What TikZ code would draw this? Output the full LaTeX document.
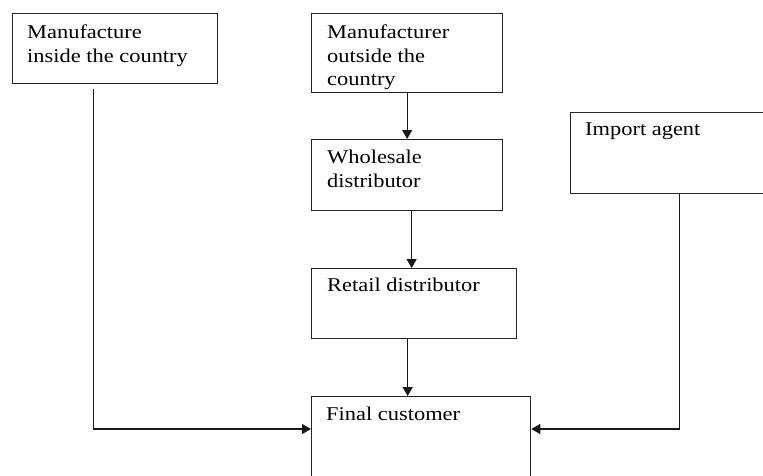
\documentclass[tikz,border=0pt]{standalone}
\usepackage{fontspec}
\setmainfont{Liberation Serif}
\usetikzlibrary{arrows.meta}
\newcommand\sx[1]{\scalebox{1.15}[1]{#1}}
\tikzset{
  box/.style={draw=black!85, line width=1.3pt, rectangle, inner sep=0pt, anchor=north west},
  lbl/.style={anchor=north west, inner sep=0pt, align=left, font=\fontsize{19.5}{23.5}\selectfont},
  arr/.style={draw=black!90, line width=1.2pt, -{Triangle[length=9pt,width=10pt]}},
  ln/.style={draw=black!90, line width=1.2pt}
}
\begin{document}
\begin{tikzpicture}[x=1pt,y=-1pt]
\useasboundingbox (0,0) rectangle (763,475);
\clip (0,0) rectangle (763,475);
\node[box, minimum width=205, minimum height=70] (b1) at (12,13) {};
\node[box, minimum width=191, minimum height=79] (b2) at (311,13) {};
\node[box, minimum width=191, minimum height=71] (b3) at (311,139) {};
\node[box, minimum width=205, minimum height=70] (b4) at (311,268) {};
\node[box, minimum width=219, minimum height=100] (b5) at (311,396) {};
\node[box, minimum width=205, minimum height=81] (b6) at (570,112) {};
\node[lbl] (t1) at ([shift={(15,12)}]b1.north west) {\sx{Manufacture}\\\sx{inside the country}};
\node[lbl] (t2) at ([shift={(16,12)}]b2.north west) {\sx{Manufacturer}\\\sx{outside the}\\\sx{country}};
\node[lbl] (t3) at ([shift={(16,11)}]b3.north west) {\sx{Wholesale}\\\sx{distributor}};
\node[lbl] (t4) at ([shift={(16,10)}]b4.north west) {\sx{Retail distributor}};
\node[lbl] (t5) at ([shift={(15,11)}]b5.north west) {\sx{Final customer}};
\node[lbl] (t6) at ([shift={(15,11)}]b6.north west) {\sx{Import agent}};
\coordinate (j) at (0,429);
\draw[arr] (b2.south) -- (b3.north);
\draw[arr] ([xshift=4.5pt]b3.south) -- ([xshift=4.5pt]b3.south |- b4.north);
\draw[arr] ([xshift=-6.5pt]b4.south) -- ([xshift=-6.5pt]b4.south |- b5.north);
\draw[arr] ([xshift=-21.5pt,yshift=-5pt]b1.south) |- (b5.west |- j);
\draw[arr] ([xshift=6.5pt]b6.south) |- (b5.east |- j);
\end{tikzpicture}
\end{document}
